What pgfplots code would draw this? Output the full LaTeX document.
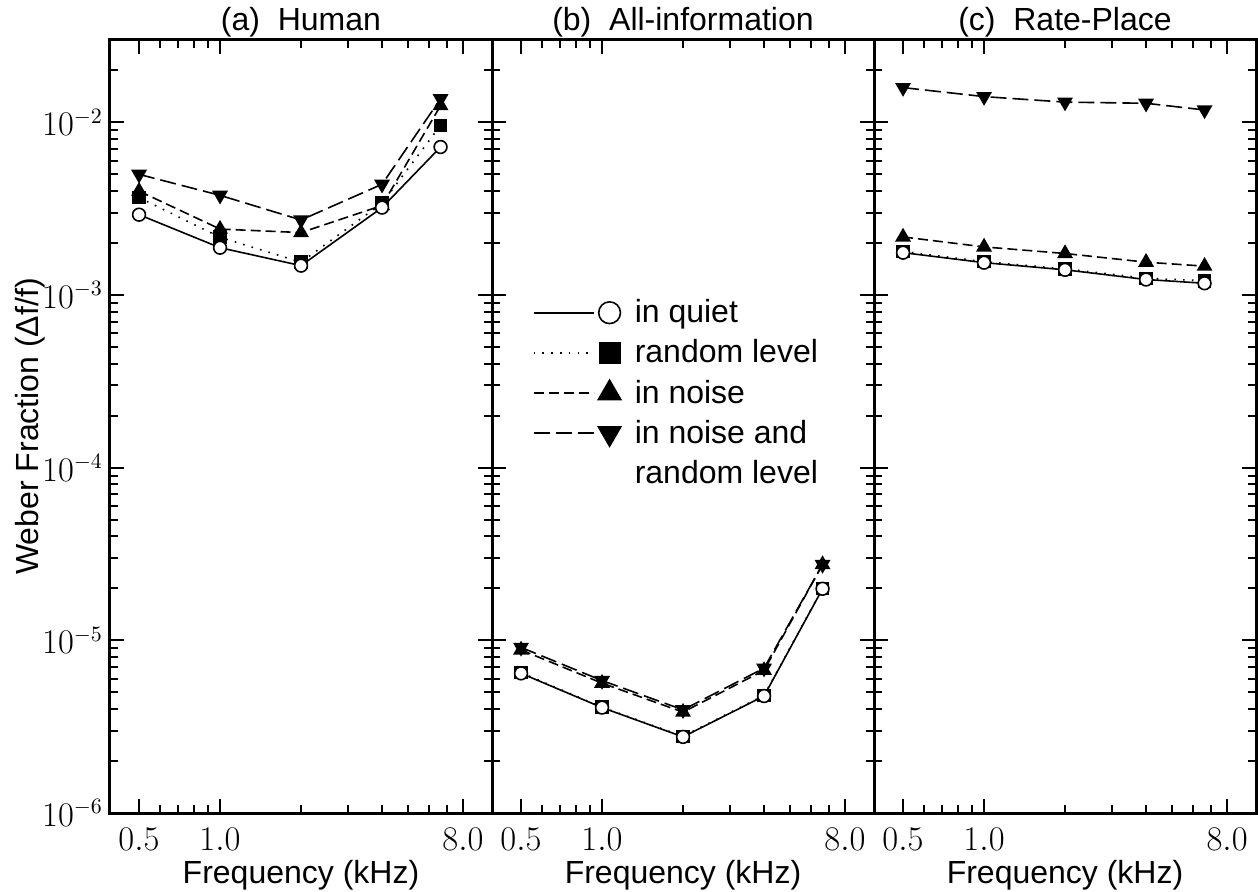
\documentclass[border=0pt]{standalone}
\usepackage{fontspec}
\setmainfont{Liberation Sans}
\usepackage{pgfplots}
\usepackage{pgfplotstable}
\pgfplotsset{compat=1.18}

% x: frequency (kHz)
\pgfplotstableread{
x     quiet    rlev     noise    noiserl
0.5   2.92e-3  3.67e-3  4.0e-3   5.0e-3
1     1.88e-3  2.16e-3  2.41e-3  3.78e-3
2     1.48e-3  1.55e-3  2.3e-3   2.72e-3
4     3.21e-3  3.4e-3   3.3e-3   4.38e-3
6.6   7.2e-3   9.6e-3   1.25e-2  1.37e-2
}\human
\pgfplotstableread{
x     quiet    rlev     noise    noiserl
0.5   6.44e-6  6.5e-6   8.8e-6   9.1e-6
1     4.08e-6  4.1e-6   5.65e-6  5.85e-6
2     2.76e-6  2.78e-6  3.84e-6  3.96e-6
4     4.76e-6  4.8e-6   6.7e-6   6.9e-6
6.6   1.99e-5  2.0e-5   2.75e-5  2.75e-5
}\allinfo
\pgfplotstableread{
x     quiet    rlev     noise    noiserl
0.5   1.76e-3  1.79e-3  2.17e-3  1.59e-2
1     1.54e-3  1.56e-3  1.9e-3   1.41e-2
2     1.40e-3  1.42e-3  1.74e-3  1.31e-2
4     1.23e-3  1.25e-3  1.55e-3  1.29e-2
6.6   1.17e-3  1.21e-3  1.47e-3  1.18e-2
}\rateplace

\tikzset{
  wfquiet/.style={black, line width=0.8pt, solid, mark=*, mark size=3.2pt,
    mark options={solid, fill=white, line width=0.8pt}},
  wfrlev/.style={black, line width=0.8pt, dash pattern=on 0.8pt off 3.6pt, mark=square*, mark size=3pt,
    mark options={solid, fill=black}},
  wfnoise/.style={black, line width=0.8pt, dash pattern=on 5pt off 2.5pt, mark=triangle*, mark size=3.8pt,
    mark options={solid, fill=black}},
  wfnoiserl/.style={black, line width=0.8pt, dash pattern=on 8pt off 3pt, mark=triangle*, mark size=3.8pt,
    mark options={solid, fill=black, rotate=180}},
}

\begin{document}
\begin{tikzpicture}
\path[use as bounding box] (-55pt,-39.5pt) rectangle (574pt,406.5pt);
\pgfplotsset{
  every axis/.append style={
    scale only axis, width=191pt, height=386.5pt,
    xmin=0.39, xmax=10.25, ymin=1e-6, ymax=0.03,
    xtick={0.5,1,8}, xticklabels={$0.5$,$1.0$,$8.0$},
    minor xtick={0.6,0.7,0.8,0.9,2,3,4,5,6,7},
    ytick={1e-6,1e-5,1e-4,1e-3,1e-2},
    minor ytick={2e-6,3e-6,4e-6,5e-6,6e-6,7e-6,8e-6,9e-6,
                 2e-5,3e-5,4e-5,5e-5,6e-5,7e-5,8e-5,9e-5,
                 2e-4,3e-4,4e-4,5e-4,6e-4,7e-4,8e-4,9e-4,
                 2e-3,3e-3,4e-3,5e-3,6e-3,7e-3,8e-3,9e-3,2e-2},
    tick align=inside, major tick length=7pt, minor tick length=4pt,
    tick style={black, line width=1pt},
    axis line style={line width=1.5pt},
    font=\fontsize{16}{19}\selectfont,
    xlabel={Frequency (kHz)},
    xlabel style={at={(axis description cs:0.5,0)}, anchor=base, yshift=-35pt},
    title style={at={(axis description cs:0.5,1)}, anchor=base, yshift=-1.5pt},
    xticklabel style={yshift=-4pt},
    clip=false,
  },
}

\begin{loglogaxis}[at={(0pt,0pt)}, anchor=south west,
  title={(a)\ \ Human},
  yticklabels={$10^{-6}$,$10^{-5}$,$10^{-4}$,$10^{-3}$,$10^{-2}$},
  ylabel={Weber Fraction (Δf/f)},
  ylabel style={at={(axis description cs:-0.21,0.5)}, anchor=center}]
\addplot[wfnoiserl] table[x=x, y=noiserl] {\human};
\addplot[wfnoise]   table[x=x, y=noise]   {\human};
\addplot[wfrlev]    table[x=x, y=rlev]    {\human};
\addplot[wfquiet]   table[x=x, y=quiet]   {\human};
\end{loglogaxis}

\begin{loglogaxis}[at={(191pt,0pt)}, anchor=south west,
  title={(b)\ \ All-information},
  yticklabels={},
  legend image code/.code={
    \draw[#1, mark=none] (0pt,0pt) -- (30pt,0pt);
    \draw[#1, every mark/.append style={scale=1.7}] plot coordinates {(38pt,0pt)};
  },
  legend cell align=left,
  legend style={at={(axis description cs:0.09,0.675)}, anchor=north west,
    draw=none, fill=none, row sep=3pt, column sep=5pt,
    font=\fontsize{16}{19}\selectfont}]
\addlegendimage{wfquiet}
\addlegendentry{in quiet}
\addlegendimage{wfrlev}
\addlegendentry{random level}
\addlegendimage{wfnoise}
\addlegendentry{in noise}
\addlegendimage{wfnoiserl}
\addlegendentry{in noise and}
\addlegendimage{empty legend}
\addlegendentry{random level}
\addplot[wfnoiserl, forget plot] table[x=x, y=noiserl] {\allinfo};
\addplot[wfnoise, forget plot]   table[x=x, y=noise]   {\allinfo};
\addplot[wfrlev, forget plot]    table[x=x, y=rlev]    {\allinfo};
\addplot[wfquiet, forget plot]   table[x=x, y=quiet]   {\allinfo};
\end{loglogaxis}

\begin{loglogaxis}[at={(382pt,0pt)}, anchor=south west,
  title={(c)\ \ Rate-Place},
  yticklabels={}]
\addplot[wfnoiserl] table[x=x, y=noiserl] {\rateplace};
\addplot[wfnoise]   table[x=x, y=noise]   {\rateplace};
\addplot[wfrlev]    table[x=x, y=rlev]    {\rateplace};
\addplot[wfquiet]   table[x=x, y=quiet]   {\rateplace};
\end{loglogaxis}
\end{tikzpicture}
\end{document}
